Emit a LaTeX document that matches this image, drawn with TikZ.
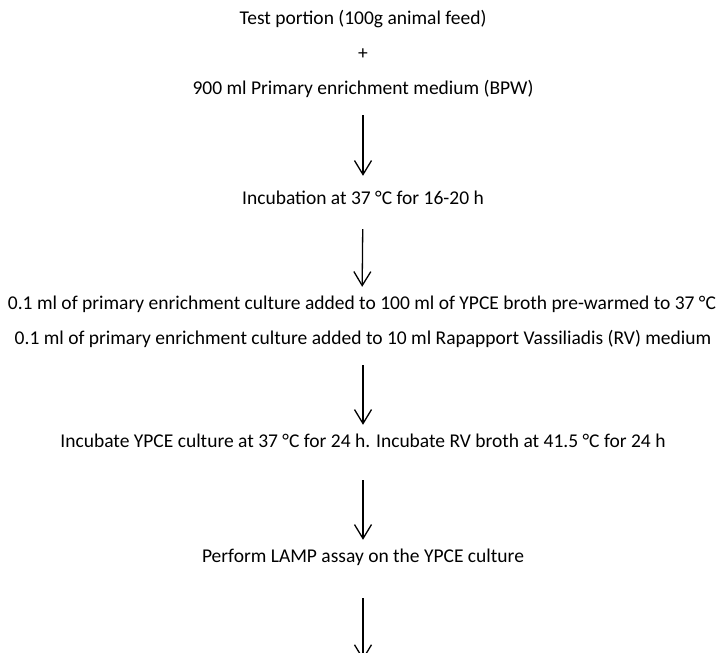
\documentclass[tikz,border=0pt]{standalone}
\usepackage{fontspec}
\setmainfont{Carlito}
\usetikzlibrary{arrows.meta}

\tikzset{
  stage/.style={inner sep=0pt, text height=12pt, text depth=4pt, font=\fontsize{19.5}{23}\selectfont},
  flow/.style={line width=1.3pt, -{Straight Barb[length=14pt,width=17pt,line width=1.3pt]}}
}

\begin{document}
\begin{tikzpicture}[x=1pt,y=-1pt]
  \useasboundingbox (0,0) rectangle (726,653);

  \node[stage] (feed) at (363,20) {Test portion (100g animal feed)};
  \node[stage] (plus) at (363,55) {+};
  \node[stage] (bpw)  at (363,90) {900 ml Primary enrichment medium (BPW)};
  \node[stage] (inc)  at (363,200) {Incubation at 37 °C for 16-20 h};
  \node[stage] (ypce) at (362,305) {0.1 ml of primary enrichment culture added to 100 ml of YPCE broth pre-warmed to 37 °C};
  \node[stage] (rv)   at (363,340) {0.1 ml of primary enrichment culture added to 10 ml Rapapport Vassiliadis (RV) medium};
  \node[stage] (incub) at (363,443) {Incubate YPCE culture at 37 °C for 24 h. Incubate RV broth at 41.5 °C for 24 h};
  \node[stage] (lamp) at (363,558) {Perform LAMP assay on the YPCE culture};
  \coordinate (next) at (363,660);

  % arrows between the steps
  \draw[flow, shorten <=17pt, shorten >=16pt] (bpw) -- (inc);
  \draw[flow, shorten <=21pt, shorten >=10pt] (inc) -- (ypce);
  \draw[flow, shorten <=17pt, shorten >=10pt] (rv) -- (incub);
  \draw[flow, shorten <=29pt, shorten >=10pt] (incub) -- (lamp);
  \draw[flow, shorten <=32pt] (lamp) -- (next);
\end{tikzpicture}
\end{document}
